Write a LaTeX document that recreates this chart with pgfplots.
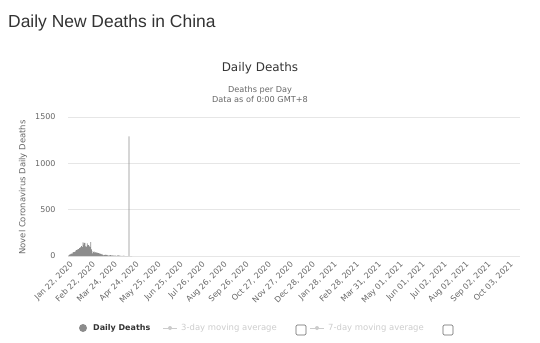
\documentclass[border=0pt]{standalone}
\usepackage{pgfplots}
\pgfplotsset{compat=1.18}
\usepackage{fontspec}
\setmainfont{DejaVu Sans}
\newfontfamily\titlefont{Liberation Sans}
\definecolor{txt}{HTML}{333333}
\definecolor{labgray}{HTML}{666666}
\definecolor{bargray}{HTML}{8C8C8C}
\definecolor{gridgray}{HTML}{E6E6E6}
\definecolor{hidden}{HTML}{CCCCCC}
\pgfplotstableread{
idx deaths
0 0
1 8
2 16
3 15
4 24
5 26
6 26
7 38
8 43
9 46
10 45
11 57
12 64
13 65
14 73
15 73
16 86
17 89
18 97
19 108
20 97
21 146
22 121
23 143
24 142
25 105
26 98
27 136
28 114
29 118
30 109
31 97
32 150
33 71
34 52
35 29
36 44
37 47
38 35
39 42
40 31
41 38
42 31
43 30
44 28
45 27
46 22
47 17
48 22
49 11
50 7
51 13
52 10
53 14
54 13
55 11
56 8
57 3
58 7
59 6
60 9
61 7
62 4
63 6
64 5
65 3
66 5
67 4
68 1
69 1
70 7
71 6
72 4
73 3
74 1
75 2
76 0
77 2
78 1
79 3
80 0
81 0
82 0
83 0
84 0
85 0
86 1290
87 0
88 0
89 0
90 0
}\deathtable
\begin{document}
\begin{tikzpicture}[x=1bp,y=1bp]
\useasboundingbox (0,0) rectangle (540,-342);
\node[anchor=base west, inner sep=0, font=\titlefont\fontsize{17.5}{20}\selectfont, text=txt] at (8,-27.7) {Daily New Deaths in China};
\node[anchor=base, inner sep=0, font=\fontsize{12}{14}\selectfont, text=txt] at (260,-71.7) {Daily Deaths};
\node[anchor=base, inner sep=0, font=\fontsize{8.2}{10}\selectfont, text=labgray] at (260,-92.7) {Deaths per Day};
\node[anchor=base, inner sep=0, font=\fontsize{8.2}{10}\selectfont, text=labgray] at (260,-102.7) {Data as of 0:00 GMT+8};
\node[rotate=90, inner sep=0, font=\fontsize{8.5}{10}\selectfont, text=labgray] at (23,-187.5) {Novel Coronavirus Daily Deaths};
\begin{axis}[
  at={(68bp,-256bp)}, anchor=south west,
  scale only axis, width=452bp, height=139bp,
  xmin=0, xmax=637, ymin=0, ymax=1500,
  axis line style={draw=none},
  ymajorgrids, grid style={gridgray, line width=0.8pt},
  major tick length=0,
  ytick={0,500,1000,1500},
  xtick={0,31,...,620},
  xticklabels={{Jan 22, 2020},{Feb 22, 2020},{Mar 24, 2020},{Apr 24, 2020},{May 25, 2020},{Jun 25, 2020},{Jul 26, 2020},{Aug 26, 2020},{Sep 26, 2020},{Oct 27, 2020},{Nov 27, 2020},{Dec 28, 2020},{Jan 28, 2021},{Feb 28, 2021},{Mar 31, 2021},{May 01, 2021},{Jun 01, 2021},{Jul 02, 2021},{Aug 02, 2021},{Sep 02, 2021},{Oct 03, 2021}},
  /pgf/number format/1000 sep={},
  /pgf/number format/assume math mode=true,
  yticklabel style={font=\fontsize{8}{9}\selectfont, text=labgray, xshift=-9bp},
  xticklabel style={font=\fontsize{8}{9}\selectfont, text=labgray, rotate=45, anchor=east, xshift=1bp, yshift=-8bp},
]
\addplot[ybar, bar width=1, fill=bargray, draw=none] table[x=idx, y=deaths] {\deathtable};
\end{axis}
% legend
\fill[bargray] (83,-328) circle (4);
\node[anchor=west, inner sep=0, font=\bfseries\fontsize{8}{9}\selectfont, text=txt] at (93,-328) {Daily Deaths};
\draw[hidden, line width=1pt] (163,-328) -- (177,-328);
\fill[hidden] (170,-328) circle (2);
\node[anchor=west, inner sep=0, font=\fontsize{8.5}{10}\selectfont, text=hidden] at (181,-328) {3-day moving average};
\draw[labgray, line width=0.6pt, rounded corners=1.2pt] (296,-325) rectangle (306,-335);
\draw[hidden, line width=1pt] (310,-328) -- (324,-328);
\fill[hidden] (317,-328) circle (2);
\node[anchor=west, inner sep=0, font=\fontsize{8.5}{10}\selectfont, text=hidden] at (328,-328) {7-day moving average};
\draw[labgray, line width=0.6pt, rounded corners=1.2pt] (443,-325) rectangle (453,-335);
\end{tikzpicture}
\end{document}
